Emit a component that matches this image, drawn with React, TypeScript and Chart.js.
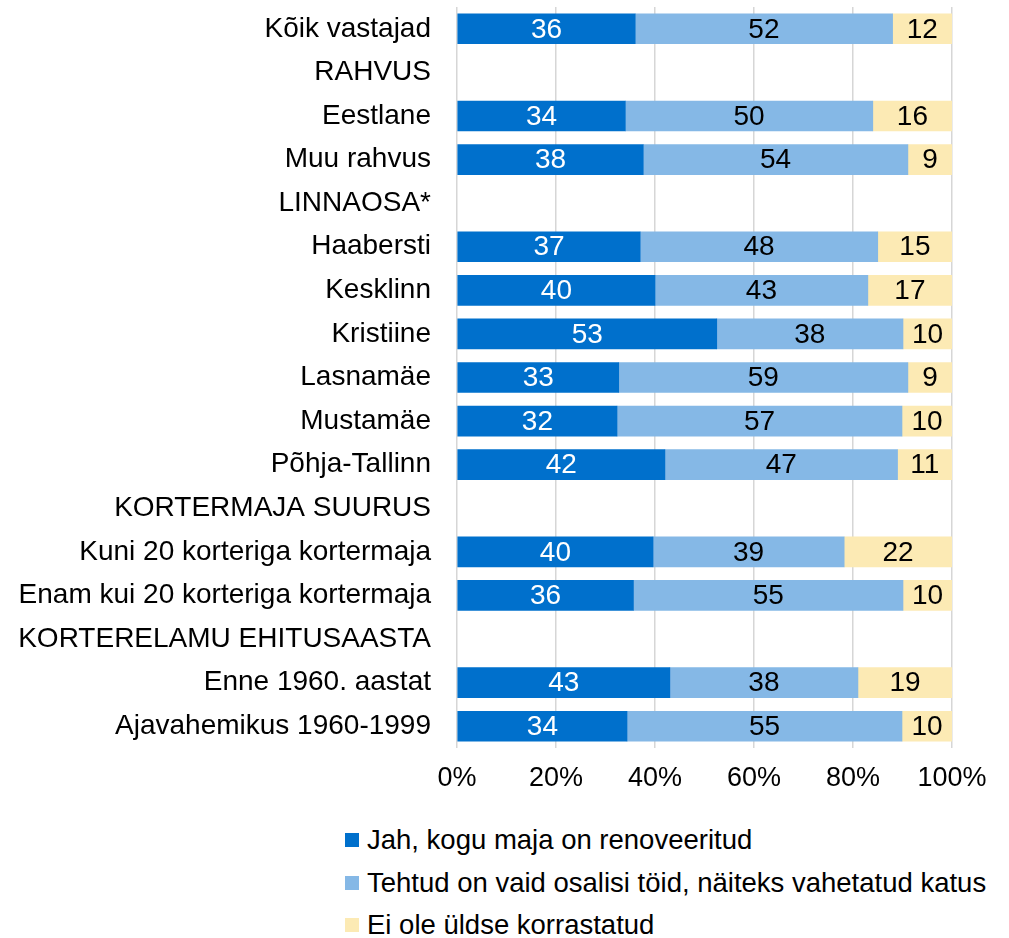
import React, { useEffect, useRef } from 'react';
import { Chart, registerables } from 'chart.js';

Chart.register(...registerables);

const categories = [
  'Kõik vastajad',
  'RAHVUS',
  'Eestlane',
  'Muu rahvus',
  'LINNAOSA*',
  'Haabersti',
  'Kesklinn',
  'Kristiine',
  'Lasnamäe',
  'Mustamäe',
  'Põhja-Tallinn',
  'KORTERMAJA SUURUS',
  'Kuni 20 korteriga kortermaja',
  'Enam kui 20 korteriga kortermaja',
  'KORTERELAMU EHITUSAASTA',
  'Enne 1960. aastat',
  'Ajavahemikus 1960-1999',
];

const renovated = [36, null, 34, 38, null, 37, 40, 53, 33, 32, 42, null, 40, 36, null, 43, 34];
const partial = [52, null, 50, 54, null, 48, 43, 38, 59, 57, 47, null, 39, 55, null, 38, 55];
const notRenovated = [12, null, 16, 9, null, 15, 17, 10, 9, 10, 11, null, 22, 10, null, 19, 10];

const seriesNames = [
  'Jah, kogu maja on renoveeritud',
  'Tehtud on vaid osalisi töid, näiteks vahetatud katus',
  'Ei ole üldse korrastatud',
];
const seriesColors = ['#0070CC', '#85B8E6', '#FCEAB4'];
const labelColors = ['#FFFFFF', '#000000', '#000000'];
const xTickValues = [0, 20, 40, 60, 80, 100];

const FONT = '"Liberation Sans", Arial, sans-serif';

const seriesValues = [renovated, partial, notRenovated];

const totals = categories.map((_, i) =>
  seriesValues.reduce((s, arr) => s + (arr[i] ?? 0), 0)
);

const shareOf = (arr: (number | null)[]) =>
  arr.map((v, i) => (v == null || totals[i] === 0 ? null : (v / totals[i]) * 100));

const valueLabels = {
  id: 'valueLabels',
  afterDatasetsDraw(chart: any) {
    const ctx = chart.ctx;
    ctx.save();
    ctx.font = `28px ${FONT}`;
    ctx.textAlign = 'center';
    ctx.textBaseline = 'middle';
    chart.data.datasets.forEach((_: any, i: number) => {
      const meta = chart.getDatasetMeta(i);
      meta.data.forEach((el: any, j: number) => {
        const raw = seriesValues[i][j];
        if (raw == null) return;
        const p = el.getCenterPoint();
        ctx.fillStyle = labelColors[i];
        ctx.fillText(String(raw), p.x, p.y + 1);
      });
    });
    ctx.restore();
  },
};

export default function App() {
  const ref = useRef<HTMLCanvasElement | null>(null);

  useEffect(() => {
    if (!ref.current) return;
    const chart = new Chart(ref.current, {
      type: 'bar',
      data: {
        labels: categories,
        datasets: seriesValues.map((arr, i) => ({
          label: seriesNames[i],
          data: shareOf(arr),
          backgroundColor: seriesColors[i],
          borderWidth: 0,
          barThickness: 30,
        })),
      },
      options: {
        indexAxis: 'y',
        animation: false,
        responsive: false,
        layout: { padding: { top: 7, right: 57, bottom: 0, left: 0 } },
        plugins: {
          legend: { display: false },
          tooltip: { enabled: false },
        },
        scales: {
          x: {
            stacked: true,
            min: 0,
            max: 100,
            afterBuildTicks: (scale: any) => {
              scale.ticks = xTickValues.map((v) => ({ value: v }));
            },
            afterFit: (scale: any) => {
              scale.height = 46;
            },
            ticks: {
              autoSkip: false,
              maxRotation: 0,
              padding: 14,
              color: '#000000',
              font: { family: FONT, size: 27 },
              callback: (v: any) => `${v}%`,
            },
            grid: { color: '#D6D6D6', lineWidth: 1.5, drawTicks: false },
            border: { display: false },
          },
          y: {
            stacked: true,
            afterFit: (scale: any) => {
              scale.width = 457;
              scale.paddingTop = 0;
              scale.paddingBottom = 0;
            },
            ticks: {
              autoSkip: false,
              padding: 26,
              color: '#000000',
              font: { family: FONT, size: 28 },
            },
            grid: { display: false, drawTicks: false },
            border: { display: false },
          },
        },
      },
      plugins: [valueLabels],
    });
    return () => chart.destroy();
  }, []);

  const legendTops = [840, 883, 925];

  return (
    <div
      style={{
        position: 'fixed',
        left: 0,
        top: 0,
        width: 1009,
        height: 938,
        background: '#ffffff',
        overflow: 'hidden',
      }}
    >
      <canvas ref={ref} width={1009} height={794} style={{ display: 'block' }} />
      {seriesNames.map((name, i) => (
        <div
          key={name}
          style={{
            position: 'absolute',
            left: 345,
            top: legendTops[i] - 18,
            height: 36,
            display: 'flex',
            alignItems: 'center',
            whiteSpace: 'nowrap',
            fontFamily: FONT,
            fontSize: 27.5,
            color: '#000000',
          }}
        >
          <span
            style={{
              display: 'inline-block',
              width: 14,
              height: 14,
              background: seriesColors[i],
              marginRight: 8,
            }}
          />
          <span>{name}</span>
        </div>
      ))}
    </div>
  );
}
